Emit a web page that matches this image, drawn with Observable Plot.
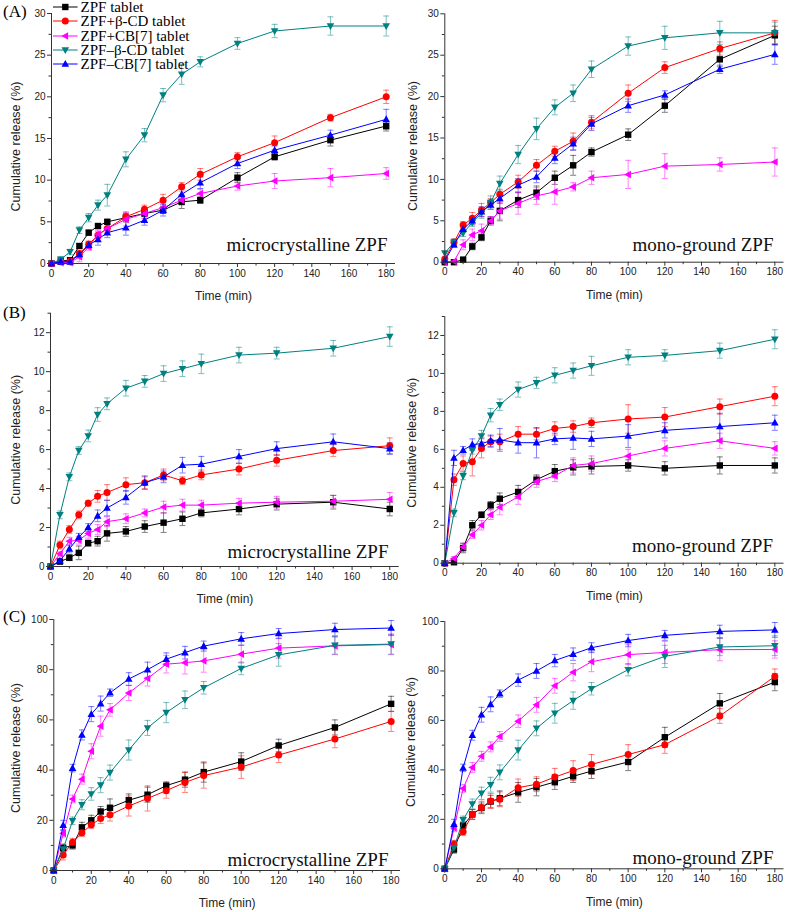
<!DOCTYPE html>
<html><head><meta charset="utf-8">
<script src="https://cdn.jsdelivr.net/npm/d3@7"></script>
<script src="https://cdn.jsdelivr.net/npm/@observablehq/plot@0.6"></script>
<style>
body{margin:0;background:#fff;}
#wrap{position:relative;width:787px;height:912px;overflow:hidden;background:#fff;}
.pn{position:absolute;}
.plab{position:absolute;font-family:"Liberation Serif","Times New Roman",serif;font-size:17px;line-height:17px;color:#000;}
#legend{position:absolute;left:53px;top:0px;font-family:"Liberation Serif","Times New Roman",serif;font-size:15px;line-height:14.3px;color:#000;}
.lrow{display:flex;align-items:center;height:14.3px;white-space:nowrap;}
.lrow svg{margin-right:3px;display:block;flex:none;}
</style></head><body><div id="wrap"></div>
<script>
// ---------- data ----------
const times = [0,5,10,15,20,25,30,40,50,60,70,80,100,120,150,180];
const seriesNames = ["ZPF tablet","ZPF+β-CD tablet","ZPF+CB[7] tablet","ZPF–β-CD tablet","ZPF–CB[7] tablet"];
const seriesColors = ["#000000","#ff0000","#ff00ff","#008080","#0000ff"];
const panelNotes = ["microcrystalline ZPF","mono-ground ZPF"];
const panelLetters = ["(A)","(B)","(C)"];
const xLabel = "Time (min)";
const yLabel = "Cumulative release (%)";
const xMajor = [0,20,40,60,80,100,120,140,160,180];
const xMinor = [10,30,50,70,90,110,130,150,170];
const yMajorA = [0,5,10,15,20,25,30];
const yMinorA = [2.5,7.5,12.5,17.5,22.5,27.5];
const yMajorB = [0,2,4,6,8,10,12];
const yMinorB = [1,3,5,7,9,11,13];
const yMajorC = [0,20,40,60,80,100];
const yMinorC = [10,30,50,70,90];

// Panel A, microcrystalline
const a1Zpf   = [0,0.3,0.4,2.1,3.7,4.5,5.0,5.5,6.0,6.4,7.4,7.6,10.3,12.8,14.8,16.5];
const a1ZpfSd = [0,0.2,0.2,0.3,0.3,0.3,0.3,0.5,0.4,0.4,0.8,0.4,0.6,0.4,0.7,0.6];
const a1Bcd   = [0,0.2,0.3,1.2,2.3,3.4,4.2,5.6,6.5,7.6,9.2,10.7,12.8,14.5,17.5,20.0];
const a1BcdSd = [0,0.2,0.2,0.3,0.4,0.4,0.5,0.6,0.5,0.7,0.5,0.7,0.5,0.8,0.4,0.8];
const a1Cb7   = [0,0.1,0.1,0.8,2.0,3.5,4.2,5.3,6.0,6.7,7.6,8.4,9.3,9.9,10.3,10.8];
const a1Cb7Sd = [0,0.2,0.2,0.6,0.4,0.5,0.6,0.8,0.6,0.6,0.6,0.5,0.5,0.9,1.1,0.7];
const a1BcdC  = [0,0.5,1.4,4.0,5.5,7.0,8.2,12.5,15.4,20.2,22.7,24.2,26.4,27.9,28.5,28.5];
const a1BcdCSd= [0,0.3,0.3,0.4,0.5,0.6,1.3,0.9,0.8,0.8,1.2,0.6,0.7,0.8,1.1,1.2];
const a1Cb7C  = [0,0.2,0.2,1.1,2.2,2.9,3.7,4.3,5.2,6.4,8.3,9.7,12.0,13.6,15.4,17.3];
const a1Cb7CSd= [0,0.2,0.2,0.3,0.4,0.7,0.6,0.9,0.6,0.7,0.7,0.7,0.6,0.5,0.6,1.2];

// Panel A, mono-ground
const a2Zpf   = [0,0,0.3,1.9,3.0,5.0,6.2,7.5,8.4,10.2,11.7,13.3,15.4,18.9,24.5,27.4];
const a2ZpfSd = [0,0.2,0.3,0.4,0.4,0.5,1.2,0.9,0.8,0.8,1.2,0.5,0.7,0.8,0.9,1.1];
const a2Bcd   = [0.4,2.4,4.5,5.3,6.3,7.2,8.2,9.7,11.7,13.4,14.6,16.9,20.4,23.5,25.8,27.7];
const a2BcdSd = [0,0.4,0.4,0.7,0.8,0.5,0.6,0.8,0.7,0.6,1.0,0.8,1.0,0.7,0.8,1.5];
const a2Cb7   = [0,0.1,2.1,3.3,3.8,5.0,6.2,7.1,8.0,8.5,9.1,10.2,10.6,11.6,11.8,12.1];
const a2Cb7Sd = [0,0.2,0.6,0.7,0.8,0.5,1.0,1.3,1.0,1.5,0.5,0.8,1.7,1.5,0.8,1.7];
const a2BcdC  = [1.1,2.4,3.5,4.8,5.9,7.2,9.5,13.0,16.1,18.7,20.4,23.3,26.1,27.1,27.7,27.7];
const a2BcdCSd= [0,0.4,0.4,0.5,0.6,0.8,0.9,1.1,1.3,0.9,1.0,1.0,1.1,1.4,1.4,1.3];
const a2Cb7C  = [0.2,2.1,4.0,5.0,6.1,6.9,7.7,9.3,10.3,12.6,14.3,16.7,18.9,20.2,23.3,25.1];
const a2Cb7CSd= [0,0.3,0.4,0.5,0.6,0.5,0.6,0.8,0.7,0.7,0.8,0.8,0.8,0.5,0.5,1.2];

// Panel B, microcrystalline
const b1Zpf   = [0,0.25,0.45,0.7,1.2,1.3,1.7,1.8,2.05,2.25,2.45,2.75,2.95,3.2,3.3,2.95];
const b1ZpfSd = [0,0.1,0.15,0.35,0.15,0.25,0.4,0.25,0.3,0.5,0.35,0.2,0.3,0.3,0.35,0.35];
const b1Bcd   = [0,1.1,1.9,2.65,3.25,3.6,3.8,4.2,4.3,4.7,4.4,4.7,5.0,5.45,5.95,6.2];
const b1BcdSd = [0,0.2,0.2,0.2,0.15,0.3,0.4,0.35,0.3,0.3,0.2,0.25,0.3,0.3,0.3,0.4];
const b1Cb7   = [0,0.65,1.3,1.35,1.7,1.9,2.3,2.45,2.75,3.05,3.15,3.15,3.25,3.3,3.35,3.45];
const b1Cb7Sd = [0,0.1,0.2,0.2,0.25,0.25,0.25,0.25,0.2,0.3,0.3,0.25,0.25,0.3,0.3,0.35];
const bBcdC   = [0,2.65,4.6,5.95,6.7,7.8,8.35,9.15,9.5,9.9,10.15,10.4,10.85,10.95,11.2,11.8];
const bBcdCSd = [0,0.2,0.2,0.2,0.3,0.35,0.3,0.4,0.3,0.4,0.4,0.5,0.4,0.3,0.4,0.5];
const b1Cb7C  = [0,0.3,0.9,1.5,2.0,2.6,3.0,3.55,4.3,4.6,5.2,5.25,5.65,6.05,6.4,6.05];
const b1Cb7CSd= [0,0.1,0.2,0.2,0.2,0.3,0.4,0.35,0.35,0.3,0.4,0.4,0.35,0.35,0.4,0.3];

// Panel B, mono-ground
const b2Zpf   = [0,0.05,0.8,2.0,2.55,3.05,3.4,3.75,4.4,4.85,5.05,5.1,5.15,5.0,5.15,5.15];
const b2ZpfSd = [0,0.1,0.25,0.25,0.15,0.2,0.3,0.35,0.25,0.35,0.4,0.4,0.3,0.35,0.45,0.4];
const b2Bcd   = [0,4.4,5.25,5.35,6.05,6.4,6.4,6.8,6.8,7.1,7.2,7.4,7.6,7.7,8.25,8.8];
const b2BcdSd = [0,0.3,0.4,0.75,0.5,0.3,0.4,0.4,0.3,0.35,0.3,0.25,0.75,0.5,0.4,0.5];
const b2Cb7   = [0,0.25,0.85,1.5,2.0,2.55,2.95,3.5,4.3,4.6,5.15,5.25,5.65,6.05,6.45,6.05];
const b2Cb7Sd = [0,0.1,0.2,0.2,0.25,0.25,0.4,0.4,0.3,0.3,0.4,0.4,0.35,0.4,0.4,0.35];
const b2Cb7C  = [0,5.55,5.95,6.25,6.3,6.45,6.5,6.35,6.35,6.55,6.6,6.55,6.7,7.0,7.2,7.4];
const b2Cb7CSd= [0,0.4,0.2,0.3,0.3,0.3,0.6,0.55,0.8,0.3,0.6,0.4,0.6,0.4,0.7,0.4];

// Panel C, microcrystalline
const c1Zpf   = [0,9,10,17.2,20,23.5,25,28,30.2,33.8,36.2,39.2,43.4,49.8,57,66.4];
const c1ZpfSd = [0,1.5,1.5,2,2,2,3.5,2.5,3,1.5,3,4,3.5,2.5,3,3];
const c1Bcd   = [0,6.2,11.3,15,18.2,20.7,22.2,25.7,28.7,31.8,35.1,37.8,41.2,46,52.4,59.4];
const c1BcdSd = [0,2,1.5,1.5,1.5,2,2.5,4,5,3,4,5,4.5,3,3.5,4];
const c1Cb7   = [0,14.8,28.5,36.4,47.5,57.5,64,70.7,76.5,82.2,82.8,83.5,86.2,88.6,89.5,90.0];
const c1Cb7Sd = [0,1.5,1.5,2,3,4,2.5,3,3,3.5,4.5,4.5,3.5,4,3.5,4];
const cBcdC   = [0,8.5,19.8,26.2,30.5,34,39,48,56.8,62.9,68,72.8,80.5,85.9,89.7,90.2];
const cBcdCSd = [0,1.5,1.5,2,2.5,3,3,4,3,4,3.5,2.5,2.5,4.5,3.5,4];
const cCb7C   = [0,18,40.8,54,62.3,66.5,70.8,76.3,80,84.2,86.8,89.4,92.3,94.4,96,96.6];
const cCb7CSd = [0,2,1.5,2,3,3,1.5,2.5,3,2.5,2.5,2,2.5,2,2.5,3];

// Panel C, mono-ground
const c2Zpf   = [0,7.8,17.5,22,24.6,27.2,28.5,30.9,33,35.1,37.4,39.5,43.2,53.2,66.9,75.5];
const c2ZpfSd = [0,1.5,1.5,2,2,2.5,3,4,3.5,3,2.5,3,3.5,4,4,3.5];
const c2Bcd   = [0,10,15,22,24.8,27.4,28.1,32.8,34.2,37.1,39.7,42.2,46.2,50.2,61.8,77.8];
const c2BcdSd = [0,1.5,1.5,2,2.5,3,3,3.5,3,3.5,4,4,4,3.5,3,3];
const c2Cb7   = [0,16.5,32.5,41,45.5,49.3,53.5,59.7,66.3,74,79.5,83.7,86.6,87.5,88.6,88.7];
const c2Cb7Sd = [0,1.5,1.5,2,2,2,2,2.5,3,3,3.5,4,4,4.5,4.5,3.5];

// ---------- symbols ----------
const symSquare = {draw(c){c.moveTo(-3.2,-3.2);c.lineTo(3.2,-3.2);c.lineTo(3.2,3.2);c.lineTo(-3.2,3.2);c.closePath();}};
const symCircle = {draw(c){c.moveTo(3.5,0);c.arc(0,0,3.5,0,2*Math.PI);c.closePath();}};
const symLeft   = {draw(c){c.moveTo(-4,0);c.lineTo(2.8,-3.8);c.lineTo(2.8,3.8);c.closePath();}};
const symDown   = {draw(c){c.moveTo(0,4);c.lineTo(3.8,-2.8);c.lineTo(-3.8,-2.8);c.closePath();}};
const symUp     = {draw(c){c.moveTo(0,-4);c.lineTo(3.8,2.8);c.lineTo(-3.8,2.8);c.closePath();}};
const symCap    = {draw(c){c.moveTo(-3,0);c.lineTo(3,0);}};
const seriesSymbols = [symSquare,symCircle,symLeft,symDown,symUp];

// ---------- panels ----------
const panels = [
  {left:0,  top:0,   w:400, h:300, ml:51, mr:5,   mt:13, mb:37, ydom:[0,30],  yMaj:yMajorA, yMin:yMinorA, note:0, ndx:-8,  ndy:-13, ylx:-36, yly:8,
   series:[[a1Zpf,a1ZpfSd],[a1Bcd,a1BcdSd],[a1Cb7,a1Cb7Sd],[a1BcdC,a1BcdCSd],[a1Cb7C,a1Cb7CSd]]},
  {left:400,top:0,   w:387, h:300, ml:44.3, mr:3.5, mt:13.3, mb:38.3, ydom:[0,30], yMaj:yMajorA, yMin:yMinorA, note:1, ndx:-10.5, ndy:-11, ylx:-32, yly:8,
   series:[[a2Zpf,a2ZpfSd],[a2Bcd,a2BcdSd],[a2Cb7,a2Cb7Sd],[a2BcdC,a2BcdCSd],[a2Cb7C,a2Cb7CSd]]},
  {left:0,  top:300, w:400, h:300, ml:50, mr:1.3, mt:12.7, mb:34, ydom:[0,13], yMaj:yMajorB, yMin:yMinorB, note:0, ndx:-10.7, ndy:-9, ylx:-35, yly:0,
   series:[[b1Zpf,b1ZpfSd],[b1Bcd,b1BcdSd],[b1Cb7,b1Cb7Sd],[bBcdC,bBcdCSd],[b1Cb7C,b1Cb7CSd]]},
  {left:400,top:300, w:387, h:300, ml:44.3, mr:3.5, mt:16, mb:37.3, ydom:[0,13], yMaj:yMajorB, yMin:yMinorB, note:1, ndx:-11, ndy:-11, ylx:-32.5, yly:3,
   series:[[b2Zpf,b2ZpfSd],[b2Bcd,b2BcdSd],[b2Cb7,b2Cb7Sd],[bBcdC,bBcdCSd],[b2Cb7C,b2Cb7CSd]]},
  {left:0,  top:600, w:400, h:312, ml:53.3, mr:0, mt:19, mb:42, ydom:[0,100], yMaj:yMajorC, yMin:yMinorC, note:0, ndx:-12, ndy:-5, ylx:-38, yly:3,
   series:[[c1Zpf,c1ZpfSd],[c1Bcd,c1BcdSd],[c1Cb7,c1Cb7Sd],[cBcdC,cBcdCSd],[cCb7C,cCb7CSd]]},
  {left:400,top:600, w:387, h:312, ml:44.3, mr:3.5, mt:21, mb:43.7, ydom:[0,100], yMaj:yMajorC, yMin:yMinorC, note:1, ndx:-10.5, ndy:-5, ylx:-34, yly:-3,
   series:[[c2Zpf,c2ZpfSd],[c2Bcd,c2BcdSd],[c2Cb7,c2Cb7Sd],[cBcdC,cBcdCSd],[cCb7C,cCb7CSd]]}
];

const axisColor = "#333";
function rowsOf(mean, sd){
  return times.map((t,i)=>({t, v:mean[i], sd:sd[i], lo:mean[i]-sd[i], hi:mean[i]+sd[i]}));
}
function makePanel(p){
  const errMarks = [], lineMarks = [];
  p.series.forEach(([m,s],k)=>{
    const col = seriesColors[k];
    const r = rowsOf(m,s);
    const e = r.filter(d=>d.sd>0);
    errMarks.push(
      Plot.ruleX(e,{x:"t",y1:"lo",y2:"hi",stroke:col,strokeOpacity:0.5,strokeWidth:1}),
      Plot.dot(e,{x:"t",y:"hi",symbol:symCap,stroke:col,fill:"none",strokeOpacity:0.5,strokeWidth:1}),
      Plot.dot(e,{x:"t",y:"lo",symbol:symCap,stroke:col,fill:"none",strokeOpacity:0.5,strokeWidth:1})
    );
    lineMarks.push(
      Plot.line(r,{x:"t",y:"v",stroke:col,strokeWidth:1}),
      Plot.dot(r,{x:"t",y:"v",symbol:seriesSymbols[k],fill:col,stroke:"none"})
    );
  });
  return Plot.plot({
    width:p.w, height:p.h,
    marginLeft:p.ml, marginRight:p.mr, marginTop:p.mt, marginBottom:p.mb,
    style:{background:"transparent",fontFamily:"'Liberation Sans', Arial, sans-serif",fontSize:"10px",color:"#222",overflow:"visible"},
    x:{domain:[0,185]},
    y:{domain:p.ydom},
    marks:[
      ...errMarks,
      ...lineMarks,
      Plot.ruleY([p.ydom[0]],{stroke:axisColor}),
      Plot.ruleX([0],{stroke:axisColor}),
      Plot.axisX({ticks:xMajor,tickSize:4,tickPadding:2,label:null,stroke:axisColor}),
      Plot.axisX({ticks:xMinor,tickSize:2.5,tickFormat:()=>"",label:null,stroke:axisColor}),
      Plot.axisY({ticks:p.yMaj,tickSize:4,tickPadding:2,label:null,stroke:axisColor}),
      Plot.axisY({ticks:p.yMin,tickSize:2.5,tickFormat:()=>"",label:null,stroke:axisColor}),
      Plot.text([xLabel],{text:d=>d,frameAnchor:"bottom",textAnchor:"middle",lineAnchor:"middle",dy:33,fontSize:12}),
      Plot.text([yLabel],{text:d=>d,frameAnchor:"left",textAnchor:"middle",lineAnchor:"middle",rotate:-90,dx:p.ylx,dy:p.yly,fontSize:12.5}),
      Plot.text([panelNotes[p.note]],{text:d=>d,frameAnchor:"bottom-right",textAnchor:"end",lineAnchor:"bottom",dx:p.ndx,dy:p.ndy,fontFamily:"'Liberation Serif','Times New Roman',serif",fontSize:19,fill:"#111"})
    ]
  });
}

const wrap = document.getElementById("wrap");
panels.forEach(p=>{
  const d = document.createElement("div");
  d.className = "pn";
  d.style.left = p.left+"px"; d.style.top = p.top+"px";
  d.appendChild(makePanel(p));
  wrap.appendChild(d);
});

// panel letters
[2.8, 304, 608].forEach((top,i)=>{
  const d = document.createElement("div");
  d.className = "plab"; d.style.left = "3px"; d.style.top = top+"px";
  d.textContent = panelLetters[i];
  wrap.appendChild(d);
});

// legend
const leg = document.createElement("div"); leg.id = "legend";
seriesNames.forEach((n,i)=>{
  const pth = d3.path(); seriesSymbols[i].draw(pth);
  const col = seriesColors[i];
  const row = document.createElement("div"); row.className = "lrow";
  row.innerHTML = `<svg width="24.6" height="14"><line x1="0" x2="24.6" y1="7" y2="7" stroke="${col}" stroke-width="1"/><path transform="translate(12.3,7)" d="${pth.toString()}" fill="${col}"/></svg>`;
  const sp = document.createElement("span"); sp.textContent = n;
  row.appendChild(sp);
  leg.appendChild(row);
});
wrap.appendChild(leg);
</script>
</body></html>
